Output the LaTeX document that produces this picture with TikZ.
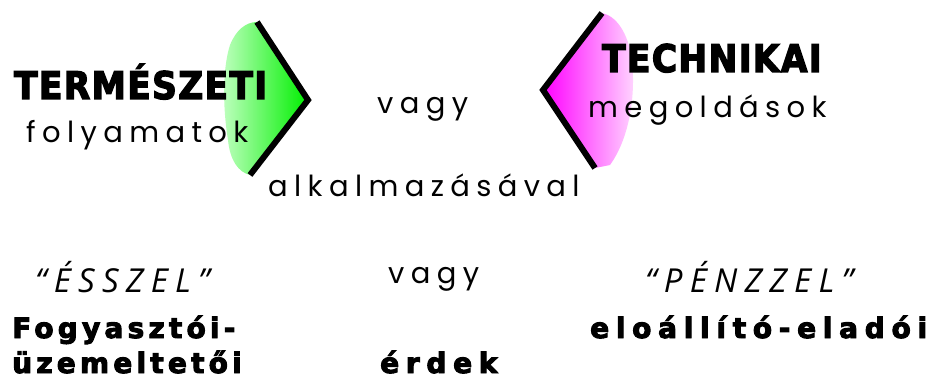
\documentclass[tikz,border=0pt]{standalone}
\usepackage{fontspec}
\newfontfamily\heavyfont[FakeBold=3.5,LetterSpace=4]{DejaVu Sans Condensed Bold}
\newfontfamily\heavywide[FakeBold=3.5,LetterSpace=15]{DejaVu Sans Bold}
\newfontfamily\heavywider[FakeBold=3.5,LetterSpace=24]{DejaVu Sans Bold}
\newfontfamily\geofont[LetterSpace=22]{Poppins}
\newfontfamily\calfont[LetterSpace=22]{Open Sans Italic}
\tikzset{
  txt/.style={inner sep=0pt, anchor=base west},
  chevron/.style={line width=6pt, line join=miter, draw=black},
}
\begin{document}
\begin{tikzpicture}[x=1pt,y=-1pt]
\useasboundingbox[fill=white] (0,0) rectangle (941,379);
% green shape
\shade[left color=green!25!white, right color=green!90!black!60!green]
  (257,22) -- (308,100) -- (250,175) .. controls (238,172) and (230,160) .. (228,140)
  .. controls (223,110) and (222,70) .. (230,45) .. controls (236,30) and (246,22) .. (257,22);
\draw[chevron] (257,22) -- (308,100) -- (250,175);
% pink shape
\shade[left color=magenta, right color=magenta!15!white]
  (602,13) .. controls (616,16) and (628,32) .. (632,60) .. controls (636,100) and (628,140) .. (610,165)
  -- (595,168) -- (543,90) -- cycle;
\draw[chevron] (602,13) -- (543,90) -- (595,168);
% texts
\node[txt] (term) at (14,99) {\heavyfont\fontsize{38}{38}\selectfont TERMÉSZETI};
\node[txt] (foly) at (26,143) {\geofont\fontsize{29}{29}\selectfont folyamatok};
\node[txt] (vagy1) at (377,114) {\geofont\fontsize{29}{29}\selectfont vagy};
\node[txt] (tech) at (602,72) {\heavyfont\fontsize{38}{38}\selectfont TECHNIKAI};
\node[txt] (megold) at (588,118) {\geofont\fontsize{29}{29}\selectfont megoldások};
\node[txt] (alk) at (268,197) {\geofont\fontsize{29}{29}\selectfont alkalmazásával};
\node[txt] (esz) at (35,292) {\calfont\fontsize{33}{33}\selectfont “ÉSSZEL”};
\node[txt] (vagy2) at (388,283) {\geofont\fontsize{29}{29}\selectfont vagy};
\node[txt] (penz) at (645,292) {\calfont\fontsize{33}{33}\selectfont “PÉNZZEL”};
\node[txt] (fogy) at (12,338) {\heavywide\fontsize{28}{28}\selectfont Fogyasztói-};
\node[txt] (uzem) at (12,373) {\heavywide\fontsize{28}{28}\selectfont üzemeltetői};
\node[txt] (erdek) at (380,373) {\heavywider\fontsize{28}{28}\selectfont érdek};
\node[txt] (elo) at (590,338) {\heavywider\fontsize{28}{28}\selectfont eloállító-eladói};
\end{tikzpicture}
\end{document}
